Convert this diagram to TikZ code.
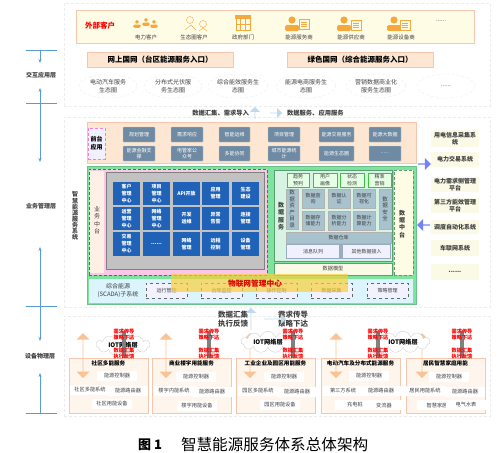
\documentclass[tikz,border=0pt]{standalone}
\usepackage{fontspec}
\setmainfont{Noto Sans CJK SC}
\usepackage{tikz}
\usetikzlibrary{positioning, shapes.geometric, shapes.arrows, shapes.symbols, arrows.meta}
\definecolor{saltline}{HTML}{F6C6AE}
\definecolor{saltfill}{HTML}{FDE6D2}
\definecolor{steelbtn}{HTML}{6F8AA3}
\definecolor{bluebtn}{HTML}{1F62B8}
\definecolor{datablue}{HTML}{A8C2CE}
\definecolor{axisblue}{HTML}{5B9BD5}
\definecolor{fatblue}{HTML}{BFD9F0}
\definecolor{fatorange}{HTML}{F9C398}
\definecolor{icon}{HTML}{F5A93C}
\definecolor{paleyel}{HTML}{FAFAE6}
\definecolor{custfill}{HTML}{FFFCE6}
\definecolor{platgreen}{HTML}{7FE3A0}
\definecolor{datapale}{HTML}{D6F3E4}
\definecolor{gold}{HTML}{F8CF3A}
\definecolor{txt}{HTML}{404040}
\newcommand{\fsz}[2]{\fontsize{#1}{#2}\selectfont}
\newcommand{\moredots}{......}
\begin{document}
\begin{tikzpicture}[
    x=1pt, y=-1pt,
    every node/.style={inner sep=0pt, outer sep=0pt, align=center, text=txt, font=\fsz{6}{7.5}},
    panel/.style={rectangle, anchor=north west},
    section/.style={panel, draw=gray!14, densely dashed},
    entry/.style={panel, draw=saltline, fill=saltfill, minimum width=146pt, minimum height=15pt, font=\bfseries\fsz{7.5}{9}, text=black},
    eco/.style={ellipse, draw=gray!14, densely dashed, minimum width=58pt, minimum height=24pt},
    steel/.style={panel, draw=gray!40, fill=steelbtn, rounded corners=0.5pt, text=white, font=\fsz{5}{6.5}, minimum height=15pt},
    blue/.style={panel, fill=bluebtn, text=white, font=\bfseries\fsz{5}{7}, minimum width=27pt},
    datatop/.style={panel, draw=green!50!gray, fill=white!90!green, font=\fsz{5}{6.5}, minimum height=14pt},
    datacell/.style={panel, draw=gray!60, fill=datablue, font=\fsz{5}{6.5}, minimum width=22pt, minimum height=19pt},
    dashbox/.style={panel, draw=gray!80!black, dashed, fill=blue!5, minimum width=41pt, minimum height=15pt, font=\fsz{5}{6.5}},
    side/.style={panel, fill=paleyel, minimum width=48pt, font=\bfseries\fsz{6}{7.5}},
    axis/.style={draw=axisblue, thick},
    axisarrow/.style={axis, -{Stealth[length=4pt]}},
    fatup/.style={single arrow, shape border rotate=90, fill=fatblue, single arrow head extend=2.5pt, minimum width=10pt},
    fatdown/.style={single arrow, shape border rotate=-90, fill=fatblue, single arrow head extend=2.5pt, minimum width=10pt},
    fatboth/.style={double arrow, shape border rotate=90, fill=fatorange, double arrow head extend=3pt, minimum width=13pt, minimum height=45pt},
    sideleft/.style={single arrow, shape border rotate=180, fill=blue!40!fatblue, single arrow head extend=2pt, minimum width=12pt, minimum height=13pt},
    sideright/.style={single arrow, fill=blue!40!fatblue, single arrow head extend=2pt, minimum width=12pt, minimum height=13pt},
    redtxt/.style={text=red, font=\bfseries\fsz{5.2}{6.5}},
    loadbox/.style={panel, draw=saltline, fill=saltfill!40, minimum width=79pt, minimum height=55pt},
    white/.style={fill=white, minimum height=10pt, minimum width=40pt, font=\fsz{5.2}{6.5}},
    cloudnet/.style={cloud, draw=gray!35, fill=white, cloud puffs=11, aspect=3.2, minimum width=54pt, minimum height=17pt, font=\bfseries\fsz{6.2}{8}, text=black},
    person/.pic={
        \fill[icon] (0,-4) circle (3.6);
        \fill[icon, rounded corners=1.5pt] (-7,7) -- (-7,1) -- (7,1) -- (7,7) -- cycle;
    },
    docpic/.pic={
        \draw[icon, fill=paleyel, thick] (-5,-5) rectangle (5,5);
        \draw[icon] (-3,-2) -- (3,-2) (-3,0) -- (3,0) (-3,2) -- (3,2);
    }
]
    % dashed layer frames
    \node[section, minimum width=426pt, minimum height=103pt] (frameTop) at (64,3) {};
    \node[section, minimum width=426pt, minimum height=190pt] (frameMid) at (64,117) {};
    \node[section, minimum width=426pt, minimum height=100pt] (frameLow) at (64,316) {};

    % left axis
    \coordinate (a1l) at (26,50); \coordinate (a1r) at (57,50);
    \coordinate (a2l) at (26,103); \coordinate (a2r) at (57,103);
    \coordinate (a3l) at (26,306); \coordinate (a3r) at (57,306);
    \coordinate (a4l) at (26,413); \coordinate (a4r) at (57,413);
    \node[font=\bfseries\fsz{6}{7.5}] (layerTop) at (41,75) {交互应用层};
    \node[font=\bfseries\fsz{6}{7.5}] (layerMid) at (41,206) {业务管理层};
    \node[font=\bfseries\fsz{6}{7.5}] (layerLow) at (40,356) {设备物理层};
    \draw[axis] (a1l) -- (a1r);
    \draw[axis] (a2l) -- (a2r);
    \draw[axis] (a3l) -- (a3r);
    \draw[axis] (a4l) -- (a4r);
    \draw[axisarrow] (40,50) -- (40,63);
    \draw[axis, {Stealth[length=4pt]}-{Stealth[length=4pt]}] (40,88) -- (40,162);
    \draw[axisarrow] (40,306) -- (40,247);
    \draw[axisarrow] (40,306) -- (40,341);
    \draw[axisarrow] (40,413) -- (40,373);
    \node[font=\bfseries\fsz{6}{6.1}] (system) at (75,216) {智\\慧\\能\\源\\服\\务\\系\\统};

    % customers
    \node[panel, draw=saltline, line width=1pt, fill=custfill, minimum width=398pt, minimum height=33pt] (customers) at (76,10) {};
    \node[text=red, font=\bfseries\fsz{7.5}{9}] (customerTitle) at (100,26) {外部客户};
    \foreach \x/\t [count=\i] in {146/电力客户, 194/生态圈客户, 243/政府部门, 299/能源服务商, 351/能源供应商, 401/能源设备商}
        \node[font=\fsz{5.5}{7}] (cust\i) at (\x,37) {\t};
    \node (custMore) at (441,21) {\moredots};
    \pic[scale=0.55] at (137,24) {person};
    \pic[scale=0.55] at (146,22) {person};
    \pic[scale=0.55] at (154,24) {person};
    \draw[icon] (190,20) circle (3.5) (203,24) circle (3.5) (185,30) -- (191,25) -- (196,30) (199,31) -- (203,28) -- (207,31);
    \draw[icon, fill=paleyel, thick] (236,18) rectangle (250,30);
    \fill[icon] (235,15) rectangle (251,19);
    \draw[icon] (240,19) -- (240,30) (245,19) -- (245,30) (236,24) -- (250,24);
    \pic at (292,24) {person};
    \pic at (304,24) {docpic};
    \pic at (344,24) {person};
    \pic at (356,25) {docpic};
    \pic at (394,24) {person};
    \pic at (405,25) {docpic};

    % entries and ecosystems
    \node[entry] (stateA) at (87,52) {网上国网（台区能源服务入口）};
    \node[entry] (stateB) at (287,52) {绿色国网（综合能源服务入口）};
    \foreach \x/\t [count=\i] in {108/电动汽车服务\\生态圈, 173/分布式光伏服\\务生态圈, 238/综合能效服务生\\态圈, 306/能源电商服务生\\态圈, 376/营销数据商业化\\服务生态圈, 446/\moredots}
        \node[eco] (eco\i) at (\x,86) {\t};
    \node[font=\bfseries\fsz{6.3}{8}, anchor=east] (gather) at (249,113) {数据汇集、需求导入};
    \node[font=\bfseries\fsz{6.3}{8}, anchor=west] (serve) at (287,113) {数据服务、应用服务};
    \node[fatup, minimum height=12pt] (upSmall) at (255,113) {};
    \node[fatdown, minimum height=12pt] (downSmall) at (276,113) {};

    % front applications
    \node[panel, draw=saltline, fill=saltfill, minimum width=329pt, minimum height=41pt] (front) at (87,122) {};
    \node[panel, draw=magenta!50, densely dashed, fill=blue!6, minimum width=17pt, minimum height=31pt, font=\bfseries\fsz{6}{8}, text=black] (frontTitle) at (88,128) {前台\\应用};
    \foreach \x/\w/\t/\b [count=\i] in {123/32/规划管理/能源金融支\\撑, 171/32/需求响应/电管家公\\众号, 219/31/智能运维/多能协同, 268/32/项目管理/城市能源统\\计, 319/35/能源交易服务/能源生态圈, 369/32/能源大数据/\moredots} {
        \node[steel, minimum width=\w pt] (fa\i) at (\x,127) {\t};
        \node[steel, minimum width=\w pt] (fb\i) at (\x,146) {\b};
    }

    % green platform
    \node[panel, draw=platgreen!85!black, fill=platgreen, minimum width=329pt, minimum height=138pt, line width=1pt] (platform) at (87,166) {};
    \node[panel, draw=magenta!70!black, densely dashed, fill=magenta!22, minimum width=178pt, minimum height=106pt] (bizPanel) at (89,169) {};
    \node[panel, fill=saltfill!60, minimum width=14pt, minimum height=102pt] (bizStrip) at (90,171) {};
    \node (bizTitle) at (97,220) {业\\务\\中\\台};
    \node[panel, draw=gray, fill=gray!48, minimum width=158pt, minimum height=97pt] (bizGrid) at (106,172) {};
    \foreach \x [count=\c] in {113,143,173,202,232}
        \foreach \y [count=\r] in {182,207,232}
            \coordinate (cell\r\c) at (\x,\y);
    \foreach \t [count=\c] in {客户\\管理\\中心, 项目\\管理\\中心, API开放, 应用\\管理, 生态\\建设}
        \node[blue, minimum height=23pt] (biz1\c) at (cell1\c) {\t};
    \foreach \t [count=\c] in {运营\\管理\\中心, 网络\\管理\\中心, 开发\\运维, 异常\\告警, 连接\\管理}
        \node[blue, minimum height=23pt] (biz2\c) at (cell2\c) {\t};
    \foreach \t [count=\c] in {交易\\管理\\中心, \moredots, 网络\\管理, 远程\\控制, 设备\\管理}
        \node[blue, minimum height=24pt] (biz3\c) at (cell3\c) {\t};

    % data service
    \node[panel, draw=platgreen!70!black, fill=datapale, minimum width=118pt, minimum height=91pt] (dataPanel) at (274,170) {};
    \node[font=\bfseries\fsz{6}{7.5}] (dataTitle) at (281,216) {数\\据\\服\\务};
    \foreach \x/\w/\t [count=\i] in {287/22/趋势\\预判, 313/24/用户\\画像, 340/24/状态\\检测, 368/23/精准\\营销}
        \node[datatop, minimum width=\w pt] (top\i) at (\x,173) {\t};
    \node[datacell, minimum width=12pt, minimum height=40pt, font=\fsz{5.5}{6.5}] (catalog) at (286,189) {数\\据\\资\\产\\目\\录};
    \node[datacell, minimum width=12pt, minimum height=40pt, font=\fsz{5.5}{6.5}] (secure) at (379,189) {数\\据\\安\\全};
    \foreach \x/\t/\b [count=\i] in {302/数据查\\询/数据存\\储能力, 328/数据认\\证/数据分\\析能力, 353/数据可\\视化/数据计\\算能力} {
        \node[datacell] (cella\i) at (\x,189) {\t};
        \node[datacell] (cellb\i) at (\x,211) {\b};
    }
    \node[datacell, minimum width=105pt, minimum height=11pt] (warehouse) at (286,232) {数据仓库};
    \node[panel, fill=steelbtn!70, minimum width=105pt, minimum height=15pt] (ingest) at (286,244) {};
    \node[panel, fill=blue!6, minimum width=52pt, minimum height=12.5pt, font=\fsz{5}{6.5}] (mq) at (287,245.2) {消息队列};
    \node[panel, fill=blue!6, minimum width=47pt, minimum height=12.5pt, font=\fsz{5}{6.5}] (other) at (343,245.2) {其他数据接入};
    \node[panel, draw=platgreen!70!black, fill=paleyel, minimum width=118pt, minimum height=12pt, font=\fsz{5.2}{6.5}] (model) at (274,263) {数据模型};
    \node[panel, draw=platgreen!70!black, densely dashed, fill=custfill, minimum width=19pt, minimum height=105pt] (middle) at (394,170) {};
    \node[font=\bfseries\fsz{6}{7.2}] (middleTitle) at (402,224) {数\\据\\中\\台};

    % scada row
    \node[panel, fill=cyan!14, minimum width=324pt, minimum height=24pt] (scada) at (89,279) {};
    \node[font=\fsz{6}{8}] (scadaTitle) at (118,291) {综合能源\\(SCADA)子系统};
    \foreach \x/\t [count=\i] in {146/运行管控, 201/台账监控, 256/操作控制, 311/数据采集, 367/策略管理}
        \node[dashbox] (sc\i) at (\x,283) {\t};
    \node[panel, fill=gold, fill opacity=0.7, minimum width=177pt, minimum height=18pt] (iot) at (171,274) {};
    \node[text=red!85!black, font=\bfseries\fsz{7.7}{9}] (iotTitle) at (255,284) {物联网管理中心};

    % outside systems
    \foreach \y/\h/\t [count=\i] in {130/17/用电信息采集系\\统, 152/15/电力交易系统, 177/15/电力需求侧管理\\平台, 198/15/第三方能效管理\\平台, 220/14/调度自动化系统, 240/16/车联网系统, 264/16/\moredots}
        \node[side, minimum height=\h pt] (ext\i) at (431,\y) {\t};
    \node[sideright] (toExt) at (424,164) {};
    \node[sideleft] (fromExt) at (424,225) {};

    % big arrows between platform and devices
    \node[font=\bfseries\fsz{7.5}{9.2}] (gatherB) at (233,319) {数据汇集\\执行反馈};
    \node[font=\bfseries\fsz{7.5}{9.2}] (demandB) at (293,319) {需求传导\\策略下达};
    \node[fatup, minimum height=22pt] (upBig) at (251,319) {};
    \node[fatdown, minimum height=22pt] (downBig) at (275,319) {};

    % load services
    \foreach \x/\t [count=\i] in {69/社区多能服务, 152/商业楼宇用能服务, 236/工业企业及园区用能服务, 321/电动汽车及分布式能源服务, 406/居民智慧家庭用能} {
        \node[loadbox] (load\i) at (\x,358) {};
        \node[font=\bfseries\fsz{5.6}{7}, text=black, below=3pt of load\i.north] (title\i) {\t};
    }
    \foreach \x/\y/\t [count=\i] in {117/376/能源控制器, 90/390/社区多能系统, 128/391/能源路由器, 112/404/社区用能设备,
        196/377/能源控制器, 174/391/楼宇内能系统, 212/392/能源路由器, 197/406/楼宇用能设备,
        284/377/能源控制器, 258/391/园区多能系统, 297/392/能源路由器, 280/405/园区用能设备,
        369/376/能源控制器, 343/391/第三方系统, 381/391/能源路由器, 355/405/充电桩, 384/405/变流器,
        449/377/能源控制器, 425/391/居民用能系统, 465/392/能源路由器, 437/405/智慧家居, 466/405/电气水表}
        \node[white] (dev\i) at (\x,\y) {\t};
    \foreach \x [count=\i] in {83,166,250,336,422}
        \node[fatboth] (link\i) at (\x,355.5) {};

    % iot clouds and gray links
    \node[cloudnet] (net1) at (123,345) {IOT网络层};
    \node[cloudnet] (net2) at (268,342) {IOT网络层};
    \node[cloudnet] (net3) at (403,342) {IOT网络层};
    \foreach \x [count=\i] in {124,209,293,378,462} {
        \coordinate (barTop\i) at (\x,331);
        \coordinate (barEnd\i) at (\x,358);
        \draw[gray, line width=4.5pt] (barTop\i) -- (barEnd\i);
        \node[redtxt] (need\i) at (\x,334.5) {需求传导\\策略下达};
        \node[redtxt] (feed\i) at (\x,353.5) {数据汇集\\执行反馈};
    }

    % caption
    \node[text=black, font=\bfseries\fsz{13}{15}] (capNo) at (150,445) {图 1};
    \node[text=black, font=\fsz{15.6}{17}, anchor=west] (capText) at (181,445) {智慧能源服务体系总体架构};
    \useasboundingbox (0,0) rectangle (500,452);
\end{tikzpicture}
\end{document}
